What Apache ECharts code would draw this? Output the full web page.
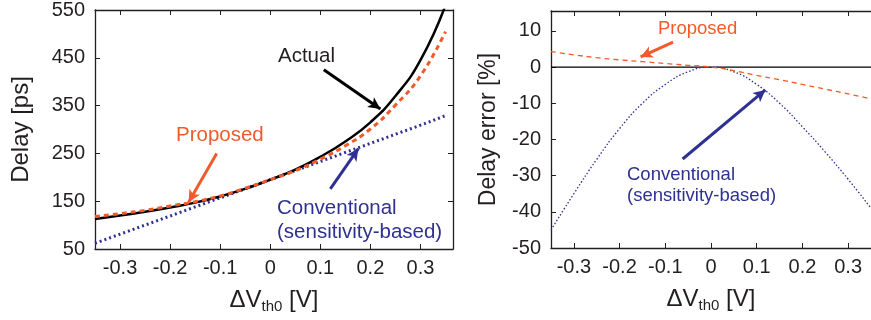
<!DOCTYPE html>
<html>
<head>
<meta charset="utf-8">
<script src="https://cdn.jsdelivr.net/npm/echarts@6/dist/echarts.min.js"></script>
<style>
  html, body { margin: 0; padding: 0; background: #fff; }
  #main { width: 871px; height: 320px; }
</style>
</head>
<body>
<div id="main"></div>
<script>
// dVth0 sample points [V]
const dVth = [-0.35, -0.3, -0.25, -0.2, -0.15, -0.1, -0.05, 0, 0.05, 0.1, 0.15, 0.2, 0.25, 0.3, 0.35];

// left panel: delay [ps]
const delayActual = [113, 120, 128, 137, 147, 160, 176, 195, 216, 243, 275, 315, 370, 445, 560];
const delayProposed = [118, 124, 131, 140, 149, 161, 177, 195, 214, 238, 266, 301, 351, 412, 505];
const delayConventional = [62, 81, 100, 119, 138, 157, 176, 195, 214, 233, 252, 271, 290, 309, 329];

// right panel: delay error [%]
const errProposed = [4.3, 3.4, 2.6, 2.0, 1.5, 1.0, 0.5, 0, -1.0, -2.3, -3.5, -4.8, -6.1, -7.4, -8.8];
const errConventional = [-45, -35, -25.5, -17, -10, -4.8, -1.3, 0, -1.3, -4.8, -10, -16.5, -23.5, -31, -39];

const xTicks = [-0.3, -0.2, -0.1, 0, 0.1, 0.2, 0.3];
const errTicks = [-50, -40, -30, -20, -10, 0, 10];

const RED = '#f15a2b';
const BLUE = '#2e3192';
const INK = '#231f20';
const FONT = 'Liberation Sans';

const pairs = (ys) => dVth.map((x, i) => [x, ys[i]]);

const chart = echarts.init(document.getElementById('main'));

const axisLine = { show: true, onZero: false, lineStyle: { color: INK, width: 1.3 } };

const xName = {
  name: '{a|ΔV}{b|th0}{a| [V]}',
  nameLocation: 'middle',
  nameGap: 38,
  nameTextStyle: {
    rich: {
      a: { fontFamily: FONT, fontSize: 24, color: INK },
      b: { fontFamily: FONT, fontSize: 15, color: INK, verticalAlign: 'bottom', padding: [12, 0, 0, 0] }
    }
  }
};

function bottomX(gridIndex, min, max) {
  return Object.assign({
    type: 'value', gridIndex, min, max,
    axisLine,
    axisTick: { inside: true, length: 5, customValues: xTicks, lineStyle: { color: INK } },
    axisLabel: { customValues: xTicks, fontFamily: FONT, fontSize: 20, color: INK, margin: 9 },
    splitLine: { show: false }
  }, xName);
}
function topX(gridIndex, min, max) {
  return {
    type: 'value', gridIndex, min, max, position: 'top',
    axisLine,
    axisTick: { inside: true, length: 5, customValues: xTicks, lineStyle: { color: INK } },
    axisLabel: { show: false },
    splitLine: { show: false }
  };
}

function arrow(color, from, to, width) {
  return {
    silent: true,
    symbol: ['none', 'arrow'],
    symbolSize: [9, 12],
    label: { show: false },
    lineStyle: { color, width, type: 'solid' },
    data: [[{ coord: from }, { coord: to }]]
  };
}

const option = {
  animation: false,
  backgroundColor: '#fff',
  grid: [
    { left: 95, top: 9, width: 358, height: 240 },
    { left: 551, top: 11, width: 329, height: 237 }
  ],
  xAxis: [
    bottomX(0, -0.35, 0.365),
    topX(0, -0.35, 0.365),
    bottomX(1, -0.35, 0.35),
    topX(1, -0.35, 0.35)
  ],
  yAxis: [
    {
      type: 'value', gridIndex: 0, min: 50, max: 550, interval: 100,
      name: 'Delay [ps]', nameLocation: 'middle', nameGap: 62,
      nameTextStyle: { fontFamily: FONT, fontSize: 24, color: INK },
      axisLine,
      axisTick: { inside: true, length: 5, lineStyle: { color: INK } },
      axisLabel: { fontFamily: FONT, fontSize: 20, color: INK, margin: 10 },
      splitLine: { show: false }
    },
    {
      type: 'value', gridIndex: 0, min: 50, max: 550, interval: 100, position: 'right',
      axisLine,
      axisTick: { inside: true, length: 5, lineStyle: { color: INK } },
      axisLabel: { show: false },
      splitLine: { show: false }
    },
    {
      type: 'value', gridIndex: 1, min: -50, max: 15.5,
      name: 'Delay error [%]', nameLocation: 'middle', nameGap: 51,
      nameTextStyle: { fontFamily: FONT, fontSize: 23, color: INK },
      axisLine,
      axisTick: { inside: true, length: 5, customValues: errTicks, lineStyle: { color: INK } },
      axisLabel: { customValues: errTicks, fontFamily: FONT, fontSize: 20, color: INK, margin: 10 },
      splitLine: { show: false }
    }
  ],
  series: [
    {
      name: 'Conventional', type: 'line', xAxisIndex: 0, yAxisIndex: 0,
      data: pairs(delayConventional), showSymbol: false, z: 2,
      lineStyle: { color: BLUE, width: 3, type: [2, 3] },
      markLine: arrow(BLUE, [0.12, 176], [0.176, 260], 3)
    },
    {
      name: 'Actual', type: 'line', xAxisIndex: 0, yAxisIndex: 0, smooth: true,
      data: pairs(delayActual), showSymbol: false, z: 3,
      lineStyle: { color: '#000', width: 2.5 },
      markLine: arrow('#000', [0.107, 425], [0.22, 343], 3)
    },
    {
      name: 'Proposed', type: 'line', xAxisIndex: 0, yAxisIndex: 0, smooth: true,
      data: pairs(delayProposed), showSymbol: false, z: 4,
      lineStyle: { color: RED, width: 3, type: [5, 4] },
      markLine: arrow(RED, [-0.107, 250], [-0.163, 148], 3)
    },
    {
      name: 'zero', type: 'line', xAxisIndex: 2, yAxisIndex: 2,
      data: [[-0.35, 0], [0.35, 0]], showSymbol: false, z: 2,
      lineStyle: { color: '#000', width: 1.2 }
    },
    {
      name: 'Conventional error', type: 'line', xAxisIndex: 2, yAxisIndex: 2, smooth: true,
      data: pairs(errConventional), showSymbol: false, z: 3,
      lineStyle: { color: BLUE, width: 1.3, type: [1.5, 2] },
      markLine: arrow(BLUE, [-0.062, -25.4], [0.119, -6.3], 3)
    },
    {
      name: 'Proposed error', type: 'line', xAxisIndex: 2, yAxisIndex: 2, smooth: true,
      data: pairs(errProposed), showSymbol: false, z: 4,
      lineStyle: { color: RED, width: 1.3, type: [5, 4] },
      markLine: arrow(RED, [-0.083, 6.9], [-0.154, 2.8], 3)
    }
  ],
  graphic: [
    { type: 'text', left: 278, top: 46, style: { text: 'Actual', font: '20.5px ' + FONT, fill: INK } },
    { type: 'text', left: 176, top: 125, style: { text: 'Proposed', font: '20.5px ' + FONT, fill: RED } },
    { type: 'text', left: 277, top: 196, style: { text: 'Conventional\n(sensitivity-based)', font: '20.5px ' + FONT, fill: BLUE, lineHeight: 24 } },
    { type: 'text', left: 658, top: 19, style: { text: 'Proposed', font: '18.5px ' + FONT, fill: RED } },
    { type: 'text', left: 627, top: 164, style: { text: 'Conventional\n(sensitivity-based)', font: '18.5px ' + FONT, fill: BLUE, lineHeight: 21 } }
  ]
};

chart.setOption(option);
</script>
</body>
</html>
